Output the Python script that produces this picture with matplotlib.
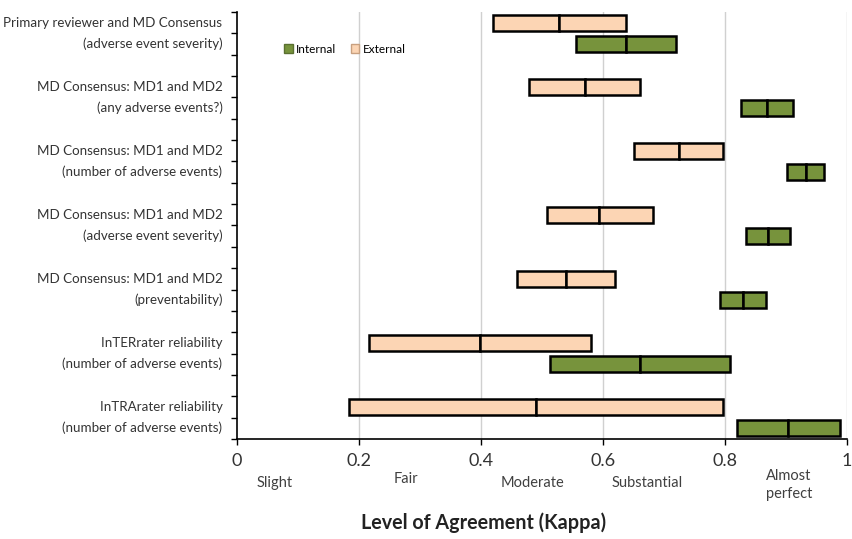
import numpy as np
import matplotlib.pyplot as plt
from matplotlib.patches import Patch
from matplotlib.transforms import blended_transform_factory

plt.rcParams['font.family'] = ['Lato', 'DejaVu Sans']

# 数据：各比较组的 kappa 区间（下限、点估计、上限）
groups = ['Primary reviewer and MD Consensus\n(adverse event severity)',
          'MD Consensus: MD1 and MD2\n(any adverse events?)',
          'MD Consensus: MD1 and MD2\n(number of adverse events)',
          'MD Consensus: MD1 and MD2\n(adverse event severity)',
          'MD Consensus: MD1 and MD2\n(preventability)',
          'InTERrater reliability\n(number of adverse events)',
          'InTRArater reliability\n(number of adverse events)']
ext_low = [0.420, 0.479, 0.650, 0.508, 0.459, 0.217, 0.183]
ext_mid = [0.528, 0.570, 0.724, 0.594, 0.540, 0.399, 0.490]
ext_high = [0.637, 0.661, 0.797, 0.682, 0.619, 0.580, 0.797]
int_low = [0.556, 0.826, 0.902, 0.835, 0.791, 0.513, 0.819]
int_mid = [0.637, 0.868, 0.932, 0.871, 0.829, 0.661, 0.904]
int_high = [0.719, 0.912, 0.962, 0.906, 0.867, 0.808, 0.988]

levels = ['Slight', 'Fair', 'Moderate', 'Substantial', 'Almost\nperfect']
level_x = [0.062, 0.277, 0.484, 0.673, 0.905]
level_y = [-0.103, -0.094, -0.103, -0.103, -0.108]

c_ext = '#FCD5B4'
c_int = '#77933C'

fig = plt.figure(figsize=(8.53, 5.39), dpi=100)
ax = fig.add_axes([0.278, 0.1855, 0.715, 0.7925])

n = len(groups)
y_ext = np.arange(n) * 3 + 0.5
y_int = y_ext + 1
h = 0.75
kw = dict(height=h, edgecolor='black', linewidth=1.8, zorder=3)
ext_low, ext_mid, ext_high = map(np.array, (ext_low, ext_mid, ext_high))
int_low, int_mid, int_high = map(np.array, (int_low, int_mid, int_high))
ax.barh(y_ext, ext_mid - ext_low, left=ext_low, color=c_ext, **kw)
ax.barh(y_ext, ext_high - ext_mid, left=ext_mid, color=c_ext, **kw)
ax.barh(y_int, int_mid - int_low, left=int_low, color=c_int, **kw)
ax.barh(y_int, int_high - int_mid, left=int_mid, color=c_int, **kw)

ax.set_xlim(0, 1)
ax.set_ylim(20, 0)
ax.set_xticks([0, 0.2, 0.4, 0.6, 0.8, 1])
ax.set_xticklabels(['0', '0.2', '0.4', '0.6', '0.8', '1'], fontsize=13, color='#333333')
ax.set_yticks(np.arange(0, 21))
ax.set_yticklabels([])
ax.tick_params(axis='both', direction='out', length=4, width=1, color='black')
ax.tick_params(axis='x', pad=6)
for v in [0.2, 0.4, 0.6, 0.8, 1.0]:
    ax.axvline(v, color='#D0D0D0', linewidth=1, zorder=1)
for s in ['top', 'right']:
    ax.spines[s].set_visible(False)
ax.spines['left'].set_linewidth(1.2)
ax.spines['bottom'].set_linewidth(1.2)

# 左侧分组标签
tr = blended_transform_factory(ax.transAxes, ax.transData)
for g, lab in enumerate(groups):
    ax.text(-0.024, y_ext[g] + 0.5, lab, transform=tr, ha='right', va='center',
            fontsize=9.6, color='#333333', linespacing=1.8)

# 底部等级标签
trx = blended_transform_factory(ax.transData, ax.transAxes)
for lx, ly, lab in zip(level_x, level_y, levels):
    ax.text(lx, ly, lab, transform=trx, ha='center', va='center', fontsize=10.5,
            color='#404040', linespacing=1.4)

fig.text(484 / 853, 1 - 523 / 539, 'Level of Agreement (Kappa)', ha='center', va='center',
         fontsize=14.2, fontweight='bold', color='#222222')

handles = [Patch(facecolor=c_int, edgecolor='#5a7030', label='Internal'),
           Patch(facecolor=c_ext, edgecolor='#c8a080', label='External')]
ax.legend(handles=handles, loc='center left', bbox_to_anchor=(0.06, 0.913), ncol=2,
          frameon=False, fontsize=8.5, handlelength=0.7, handleheight=0.7,
          handletextpad=0.3, columnspacing=1.2)

fig.savefig('out.png', dpi=100)
